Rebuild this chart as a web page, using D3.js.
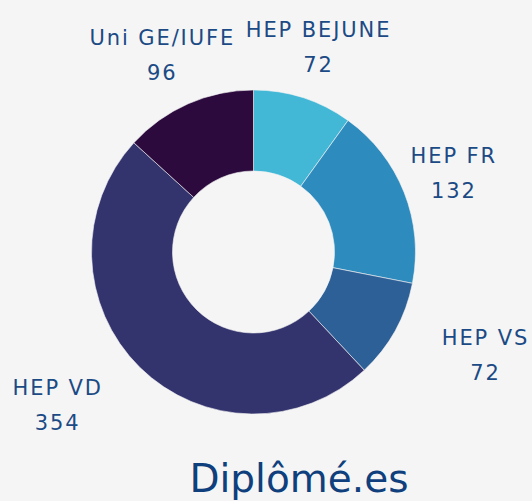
<!DOCTYPE html>
<html>
<head>
<meta charset="utf-8">
<script src="https://cdn.jsdelivr.net/npm/d3@7"></script>
<style>
  html, body { margin: 0; padding: 0; background: #f5f5f5; }
  svg { display: block; }
</style>
</head>
<body>
<svg id="chart" width="532" height="501"></svg>
<script>
// ---- data ----
const categories = ["HEP BEJUNE", "HEP FR", "HEP VS", "HEP VD", "Uni GE/IUFE"];
const values = [72, 132, 72, 354, 96];
const colors = ["#42b7d6", "#2e8bbd", "#2e6098", "#33346e", "#2c0a3e"];
const title = "Diplômé.es";

// ---- layout (label placement, not data) ----
const labelRadius = [217, 216, 253, 247, 219];
const labelAngleShift = [-0.4, -0.4, -5.5, 7.8, -0.8]; // degrees

const W = 532, H = 501;
const cx = 253.5, cy = 252;
const outerR = 162, innerR = 81;
const textColor = "#1b4a85";

const svg = d3.select("#chart");
svg.append("rect").attr("width", W).attr("height", H).attr("fill", "#f5f5f5");

const data = categories.map((c, i) => ({ name: c, value: values[i], color: colors[i], idx: i }));

const pie = d3.pie().value(d => d.value).sort(null).startAngle(0).endAngle(2 * Math.PI);
const arcs = pie(data);
const arc = d3.arc().innerRadius(innerR).outerRadius(outerR);

const g = svg.append("g").attr("transform", `translate(${cx},${cy})`);

g.selectAll("path.slice")
  .data(arcs)
  .enter().append("path")
  .attr("class", "slice")
  .attr("d", arc)
  .attr("fill", d => d.data.color)
  .attr("stroke", "#f5f5f5")
  .attr("stroke-width", 0.6);

const labels = g.selectAll("g.label")
  .data(arcs)
  .enter().append("g")
  .attr("class", "label")
  .attr("transform", d => {
    const mid = (d.startAngle + d.endAngle) / 2 + labelAngleShift[d.data.idx] * Math.PI / 180;
    const r = labelRadius[d.data.idx];
    return `translate(${r * Math.sin(mid)},${-r * Math.cos(mid)})`;
  });

labels.append("text")
  .attr("text-anchor", "middle")
  .attr("y", -8)
  .attr("font-family", "DejaVu Sans, sans-serif")
  .attr("font-size", 21)
  .attr("letter-spacing", "1.9px")
  .attr("fill", textColor)
  .text(d => d.data.name);

labels.append("text")
  .attr("text-anchor", "middle")
  .attr("y", 27)
  .attr("font-family", "DejaVu Sans, sans-serif")
  .attr("font-size", 21)
  .attr("letter-spacing", "1.9px")
  .attr("fill", textColor)
  .text(d => d.data.value);

svg.append("text")
  .attr("x", 299)
  .attr("y", 492)
  .attr("text-anchor", "middle")
  .attr("font-family", "DejaVu Sans, sans-serif")
  .attr("font-size", 39)
  .attr("fill", "#0f3f7c")
  .text(title);
</script>
</body>
</html>
